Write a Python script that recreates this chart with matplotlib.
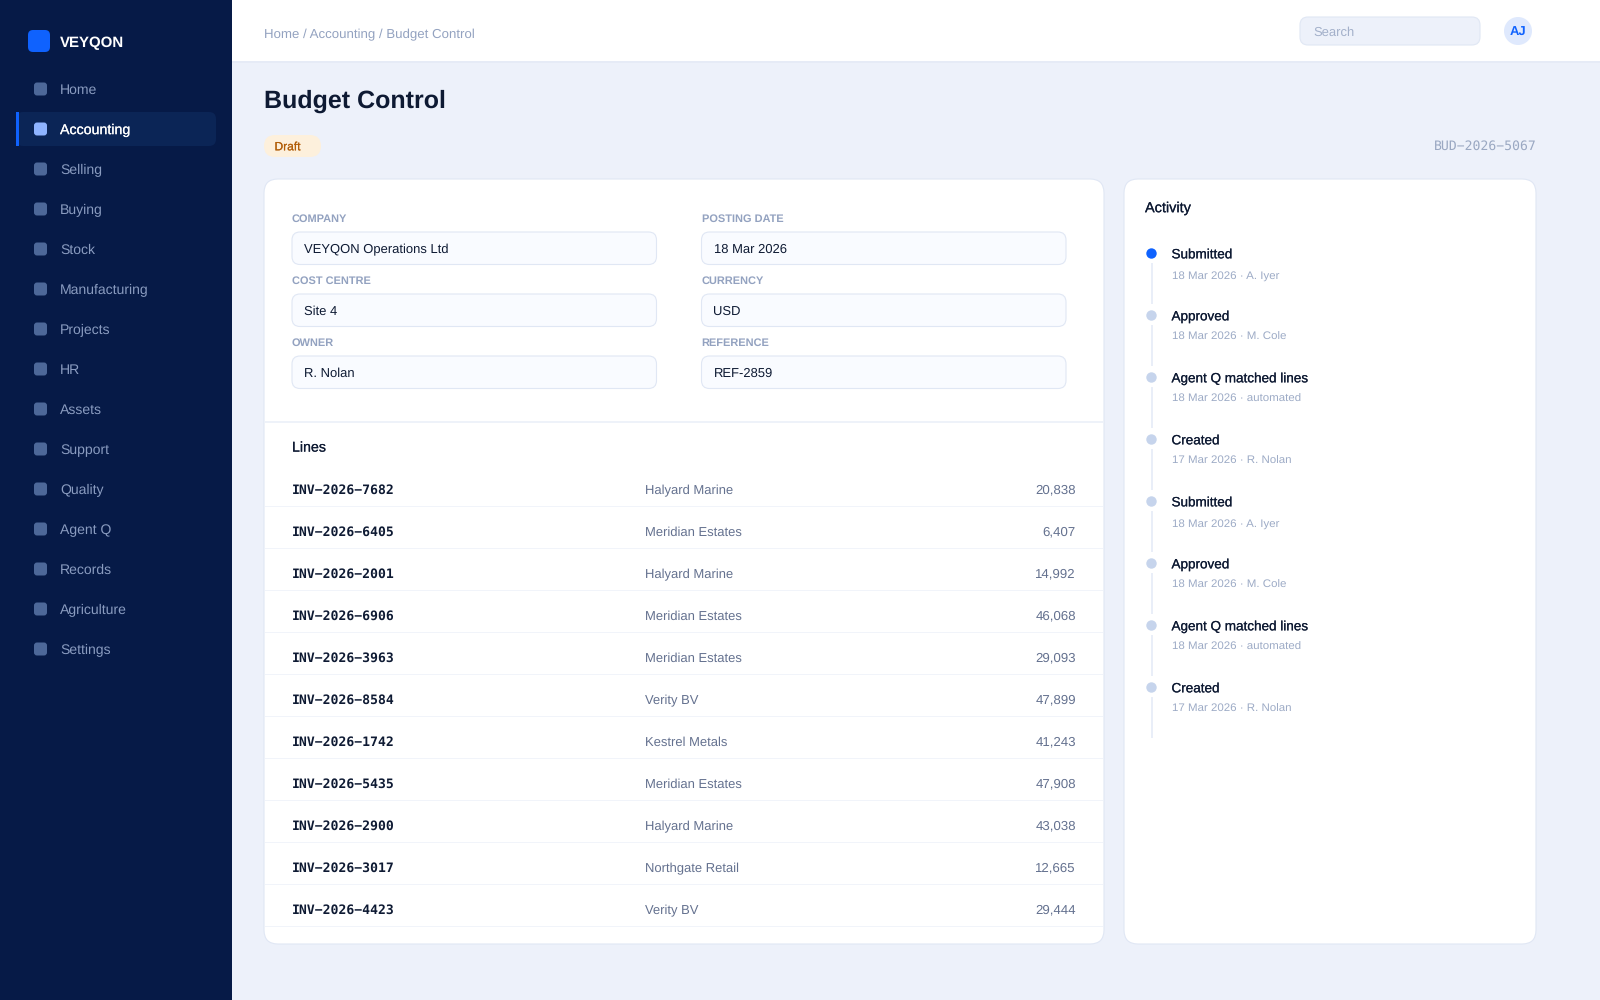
import matplotlib
matplotlib.use('Agg')
import matplotlib.pyplot as plt
import matplotlib.patheffects as pe
from matplotlib.patches import FancyBboxPatch, Rectangle, Circle

plt.rcParams['font.family'] = ['Liberation Sans', 'DejaVu Sans']
plt.rcParams['text.hinting'] = 'no_hinting'

nav_items = ['Home', 'Accounting', 'Selling', 'Buying', 'Stock', 'Manufacturing', 'Projects', 'HR',
             'Assets', 'Support', 'Quality', 'Agent Q', 'Records', 'Agriculture', 'Settings']
active_nav = 'Accounting'

field_labels = ['COMPANY', 'POSTING DATE', 'COST CENTRE', 'CURRENCY', 'OWNER', 'REFERENCE']
field_values = ['VEYQON Operations Ltd', '18 Mar 2026', 'Site 4', 'USD', 'R. Nolan', 'REF-2859']

line_ids = ['INV-2026-7682', 'INV-2026-6405', 'INV-2026-2001', 'INV-2026-6906', 'INV-2026-3963', 'INV-2026-8584',
            'INV-2026-1742', 'INV-2026-5435', 'INV-2026-2900', 'INV-2026-3017', 'INV-2026-4423']
line_parties = ['Halyard Marine', 'Meridian Estates', 'Halyard Marine', 'Meridian Estates', 'Meridian Estates',
                'Verity BV', 'Kestrel Metals', 'Meridian Estates', 'Halyard Marine', 'Northgate Retail', 'Verity BV']
line_amounts = [20838, 6407, 14992, 46068, 29093, 47899, 41243, 47908, 43038, 12665, 29444]

activity_titles = ['Submitted', 'Approved', 'Agent Q matched lines', 'Created',
                   'Submitted', 'Approved', 'Agent Q matched lines', 'Created']
activity_subs = ['18 Mar 2026 · A. Iyer', '18 Mar 2026 · M. Cole', '18 Mar 2026 · automated', '17 Mar 2026 · R. Nolan',
                 '18 Mar 2026 · A. Iyer', '18 Mar 2026 · M. Cole', '18 Mar 2026 · automated', '17 Mar 2026 · R. Nolan']

NAVY = '#061a47'
BG = '#edf1fa'
BORDER = '#e0e7f4'
INK = '#0e1a33'
MUTED = '#93a2c0'
SLATE = '#64718f'
BLUE = '#0f62fe'

fig = plt.figure(figsize=(16, 10), dpi=100, facecolor=BG)
ax = fig.add_axes([0, 0, 1, 1])
ax.set_xlim(0, 1600)
ax.set_ylim(1000, 0)
ax.axis('off')


def rbox(x0, y0, x1, y1, r, fc, ec='none', lw=0, z=1):
    p = FancyBboxPatch((x0 + r, y0 + r), x1 - x0 - 2 * r, y1 - y0 - 2 * r,
                       boxstyle=f'round,pad={r},rounding_size={r}', fc=fc, ec=ec, lw=lw, zorder=z)
    ax.add_patch(p)


def rect(x0, y0, x1, y1, fc, z=1):
    ax.add_patch(Rectangle((x0, y0), x1 - x0, y1 - y0, fc=fc, ec='none', zorder=z))


def label(x, y, s, px, color, weight='normal', ha='left', family=None, medium=False):
    # y is the middle of the text line, baseline sits a bit under it
    kw = {'family': family} if family else {}
    t = ax.text(x, y + 0.36 * px, s, fontsize=px * 0.72, color=color, fontweight=weight, ha=ha,
                va='baseline', zorder=5, **kw)
    if medium:
        # no medium weight in Liberation, thicken a little
        t.set_path_effects([pe.withStroke(linewidth=0.12, foreground=color)])


# sidebar
rect(0, 0, 232, 1000, NAVY)
rbox(28, 30, 50, 52, 5, BLUE, z=2)
label(60, 42, 'VEYQON', 15, 'white', 'bold')
for i, name in enumerate(nav_items):
    y = 89 + 40 * i
    on = name == active_nav
    if on:
        rbox(16, 112, 216, 146, 7, '#0b2556', z=2)
        rect(16, 112, 19, 146, BLUE, z=3)
    rbox(34, y - 6.5, 47, y + 6.5, 3, '#8fb4ff' if on else '#4d6899', z=3)
    label(60, y, name, 14.2 if on else 14, 'white' if on else '#8a9cc0', medium=on)

# top bar
rect(232, 0, 1600, 61, 'white')
rect(232, 61, 1600, 62.5, '#e6ebf6')
label(264, 33.5, 'Home / Accounting / Budget Control', 13.25, MUTED)
rbox(1300, 17, 1480, 45, 8, BG, BORDER, 0.8, z=2)
label(1313.5, 31.5, 'Search', 13, '#a3b0ca')
ax.add_patch(Circle((1518, 31), 14, fc='#dfe9fd', ec='none', zorder=2))
label(1518, 31, 'AJ', 13, BLUE, 'bold', ha='center')

# page heading
label(264, 98.7, 'Budget Control', 25, INK, 'bold')
rbox(264, 135, 321, 157, 11, '#fdf0dc', z=2)
label(274.5, 146, 'Draft', 12, '#b25e09', medium=True)
label(1536.5, 145.5, 'BUD-2026-5067'.replace('-', '\u2212'), 13.1, '#9aa8c2', ha='right', family='DejaVu Sans Mono')

# cards
rbox(264, 179, 1104, 944, 14, 'white', BORDER, 0.8, z=1)
rbox(1124, 179, 1536, 944, 14, 'white', BORDER, 0.8, z=1)

# form fields
col_x = [292, 701.5]
for i, (lab, val) in enumerate(zip(field_labels, field_values)):
    x0 = col_x[i % 2]
    y0 = 232 + 62 * (i // 2)
    label(x0, y0 - 14, lab, 11, MUTED, 'bold')
    rbox(x0, y0, x0 + 364.5, y0 + 32.5, 8, '#f9fbff', BORDER, 0.8, z=2)
    label(x0 + 12, y0 + 16.4, val, 13, INK)

# lines table
rect(264.7, 420.5, 1103.3, 422.5, '#eef2f9', z=2)
label(292, 446.5, 'Lines', 14.2, INK, medium=True)
for i, (inv, party, amt) in enumerate(zip(line_ids, line_parties, line_amounts)):
    y = 489.5 + 42 * i
    label(292, y, inv.replace('-', '\u2212'), 13.1, INK, 'bold', family='DejaVu Sans Mono')
    label(645, y, party, 13.05, SLATE)
    label(1076, y - 0.5, f'{amt:,}', 13.2, SLATE, ha='right')
    rect(264.7, y + 16, 1103.3, y + 17.5, '#f1f4fa', z=2)

# activity timeline
label(1145, 207, 'Activity', 14.5, INK, medium=True)
for i, (t, s) in enumerate(zip(activity_titles, activity_subs)):
    y = 253.5 + 62 * i
    ax.add_patch(Circle((1151.5, y), 5.2, fc=BLUE if i == 0 else '#c6d4ec', ec='none', zorder=4))
    rect(1151, y + 9, 1152.5, y + 50, '#e9eef8', z=3)
    label(1171.5, y, t, 13.5, INK, medium=True)
    label(1171.5, y + 20.7, s, 11.5, '#9dabc6')

fig.savefig('out.png', dpi=100, facecolor=BG)
plt.close(fig)
